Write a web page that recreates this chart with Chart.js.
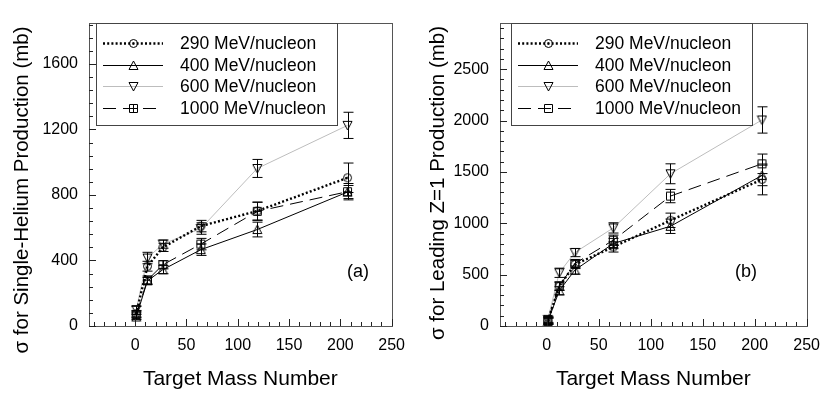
<!DOCTYPE html>
<html>
<head>
<meta charset="utf-8">
<script src="https://cdn.jsdelivr.net/npm/chart.js@4.4.1/dist/chart.umd.min.js"></script>
<style>
  html, body { margin: 0; padding: 0; background: #fff; }
  .wrap { position: relative; width: 830px; height: 394px; }
  canvas { position: absolute; top: 0; }
  #chartA { left: 0; }
  #chartB { left: 415px; }
</style>
</head>
<body>
<div class="wrap">
  <canvas id="chartA" width="415" height="394"></canvas>
  <canvas id="chartB" width="415" height="394"></canvas>
</div>
<script>
// target mass numbers (H, C, Al, Cu, Sn, Pb)
const targetMass = [1, 12, 27, 64, 119, 207];
const energyLabels = ['290 MeV/nucleon', '400 MeV/nucleon', '600 MeV/nucleon', '1000 MeV/nucleon'];
const xTicks = [0, 50, 100, 150, 200, 250];

// (a) single-helium production, mb
const helium290 = [75, 365, 480, 610, 702, 905];
const helium400 = [55, 276, 344, 466, 589, 818];
const helium600 = [100, 415, 500, 595, 962, 1225];
const helium1000 = [70, 280, 374, 500, 700, 820];
const heliumErr290 = [20, 30, 25, 35, 55, 90];
const heliumErr400 = [15, 20, 25, 35, 45, 40];
const heliumErr600 = [20, 35, 25, 35, 55, 80];
const heliumErr1000 = [20, 25, 25, 35, 55, 50];
const heliumTicks = [0, 400, 800, 1200, 1600];

// (b) leading Z=1 production, mb
const leading290 = [50, 388, 599, 770, 1029, 1427];
const leading400 = [45, 343, 544, 803, 971, 1466];
const leading600 = [65, 518, 715, 955, 1482, 2006];
const leading1000 = [55, 388, 608, 835, 1265, 1579];
const leadingErr290 = [30, 40, 40, 50, 70, 150];
const leadingErr400 = [30, 40, 40, 50, 70, 100];
const leadingErr600 = [30, 45, 40, 50, 97, 128];
const leadingErr1000 = [30, 40, 40, 50, 65, 95];
const leadingTicks = [0, 500, 1000, 1500, 2000, 2500];

const FONT = "'Liberation Sans', Arial, sans-serif";

// open marker glyphs
function marker(kind) {
    const c = document.createElement('canvas');
    c.width = 11; c.height = 11;
    const g = c.getContext('2d');
    g.strokeStyle = '#000';
    g.lineWidth = 1;
    g.beginPath();
    if (kind === 'circleDot') {
        g.arc(5.5, 5.5, 4, 0, Math.PI * 2);
        g.stroke();
        g.beginPath();
        g.arc(5.5, 5.5, 1, 0, Math.PI * 2);
        g.fillStyle = '#000';
        g.fill();
        return c;
    }
    if (kind === 'triUp') {
        g.moveTo(5.5, 1); g.lineTo(10, 9.5); g.lineTo(1, 9.5); g.closePath();
    } else if (kind === 'triDown') {
        g.moveTo(1, 1.5); g.lineTo(10, 1.5); g.lineTo(5.5, 10); g.closePath();
    } else {
        g.rect(1.5, 1.5, 8, 8);
        if (kind === 'squareCross') {
            g.moveTo(5.5, 1.5); g.lineTo(5.5, 9.5);
            g.moveTo(1.5, 5.5); g.lineTo(9.5, 5.5);
        }
    }
    g.stroke();
    return c;
}

const lineStyles = [
    { color: '#000', width: 2.4, dash: [2, 2.2] },
    { color: '#000', width: 1, dash: [] },
    { color: '#bdbdbd', width: 1, dash: [] },
    { color: '#000', width: 1, dash: [13, 7] }
];

const panelDecor = {
    id: 'decor',
    afterDatasetsDraw(chart, args, opts) {
        const { ctx, chartArea: a, scales } = chart;
        const xs = scales.x, ys = scales.y;
        ctx.save();

        // error bars
        ctx.strokeStyle = '#000';
        ctx.lineWidth = 1;
        chart.data.datasets.forEach(ds => {
            ds.data.forEach((p, i) => {
                const e = ds.errors[i];
                const px = Math.round(xs.getPixelForValue(p.x)) + 0.5;
                const top = ys.getPixelForValue(p.y + e);
                const bot = ys.getPixelForValue(p.y - e);
                ctx.beginPath();
                ctx.moveTo(px, top); ctx.lineTo(px, bot);
                ctx.moveTo(px - 5, top); ctx.lineTo(px + 5, top);
                ctx.moveTo(px - 5, bot); ctx.lineTo(px + 5, bot);
                ctx.stroke();
            });
        });

        // frame
        ctx.strokeStyle = '#555';
        ctx.strokeRect(Math.round(a.left) + 0.5, Math.round(a.top) + 0.5,
            Math.round(a.right - a.left), Math.round(a.bottom - a.top));

        // inward ticks
        ctx.strokeStyle = '#222';
        ctx.beginPath();
        for (let v = Math.ceil(xs.min / 10) * 10; v <= xs.max; v += 10) {
            const px = Math.round(xs.getPixelForValue(v)) + 0.5;
            const len = v % 50 === 0 ? 7 : 4;
            ctx.moveTo(px, a.bottom); ctx.lineTo(px, a.bottom - len);
        }
        for (let v = 0; v <= ys.max; v += opts.yMinor) {
            const py = Math.round(ys.getPixelForValue(v)) + 0.5;
            const len = v % opts.yMajor === 0 ? 7 : 4;
            ctx.moveTo(a.left, py); ctx.lineTo(a.left + len, py);
        }
        ctx.stroke();

        // legend box
        const L = opts.legend;
        ctx.fillStyle = '#fff';
        ctx.fillRect(L.x, L.y, L.w, L.h);
        ctx.strokeStyle = '#444';
        ctx.strokeRect(L.x + 0.5, L.y + 0.5, L.w, L.h);
        chart.data.datasets.forEach((ds, i) => {
            const y = Math.round(L.y + 20 + i * 21.7) + 0.5;
            ctx.beginPath();
            ctx.strokeStyle = ds.borderColor;
            ctx.lineWidth = ds.borderWidth;
            ctx.setLineDash(ds.borderDash);
            ctx.moveTo(L.x + 7, y); ctx.lineTo(L.x + 67, y);
            ctx.stroke();
            ctx.setLineDash([]);
            ctx.drawImage(ds.pointStyle, L.x + 32, y - 5.5);
            ctx.fillStyle = '#000';
            ctx.font = '17.5px ' + FONT;
            ctx.textBaseline = 'middle';
            ctx.textAlign = 'left';
            ctx.fillText(ds.label, L.x + 84, y + 1);
        });

        // panel tag
        ctx.font = '18px ' + FONT;
        ctx.textAlign = 'center';
        ctx.fillText(opts.tag.text, opts.tag.x, opts.tag.y);

        // y title
        ctx.translate(opts.yTitle.x, opts.yTitle.y);
        ctx.rotate(-Math.PI / 2);
        ctx.font = '20.5px ' + FONT;
        ctx.fillText(opts.yTitle.text, 0, 0);
        ctx.restore();
    }
};

function makePanel(id, series, errors, squareKind, yTicks, yMax, yMinor, yTitle, tag, leftW, rightPad) {
    const kinds = ['circleDot', 'triUp', 'triDown', squareKind];
    const datasets = series.map((vals, i) => ({
        label: energyLabels[i],
        data: targetMass.map((m, j) => ({ x: m, y: vals[j] })),
        errors: errors[i],
        borderColor: lineStyles[i].color,
        borderWidth: lineStyles[i].width,
        borderDash: lineStyles[i].dash,
        pointStyle: marker(kinds[i]),
        pointRadius: 5,
        tension: 0,
        fill: false
    }));
    return new Chart(document.getElementById(id), {
        type: 'line',
        data: { datasets },
        options: {
            responsive: false,
            animation: false,
            devicePixelRatio: 1,
            layout: { padding: { top: 23, right: rightPad, bottom: 0, left: 0 } },
            plugins: {
                legend: { display: false },
                tooltip: { enabled: false },
                decor: {
                    yMinor,
                    yMajor: yTicks[1],
                    legend: { x: 96, y: 23, w: 241, h: 102 },
                    tag,
                    yTitle
                }
            },
            scales: {
                x: {
                    type: 'linear',
                    min: -45,
                    max: 250,
                    afterBuildTicks: s => { s.ticks = xTicks.map(v => ({ value: v })); },
                    afterFit: s => { s.height = 68; },
                    grid: { display: false, drawTicks: false },
                    border: { display: false },
                    ticks: { color: '#000', padding: 10, font: { family: FONT, size: 16 }, callback: v => String(v) },
                    title: {
                        display: true,
                        text: 'Target Mass Number',
                        color: '#000',
                        padding: { top: 0, bottom: 2 },
                        font: { family: FONT, size: 21 }
                    }
                },
                y: {
                    type: 'linear',
                    min: 0,
                    max: yMax,
                    afterBuildTicks: s => { s.ticks = yTicks.map(v => ({ value: v })); },
                    afterFit: s => { s.width = leftW; },
                    grid: { display: false, drawTicks: false },
                    border: { display: false },
                    ticks: { color: '#000', padding: 11, font: { family: FONT, size: 16 }, callback: v => String(v) }
                }
            }
        },
        plugins: [panelDecor]
    });
}

makePanel('chartA',
    [helium290, helium400, helium600, helium1000],
    [heliumErr290, heliumErr400, heliumErr600, heliumErr1000],
    'squareCross', heliumTicks, 1850, 80,
    { text: 'σ for Single-Helium Production (mb)', x: 22, y: 190 },
    { text: '(a)', x: 358, y: 272 },
    89, 19);

makePanel('chartB',
    [leading290, leading400, leading600, leading1000],
    [leadingErr290, leadingErr400, leadingErr600, leadingErr1000],
    'square', leadingTicks, 2950, 100,
    { text: 'σ for Leading Z=1 Production (mb)', x: 23, y: 183 },
    { text: '(b)', x: 331, y: 272 },
    85, 23);
</script>
</body>
</html>
